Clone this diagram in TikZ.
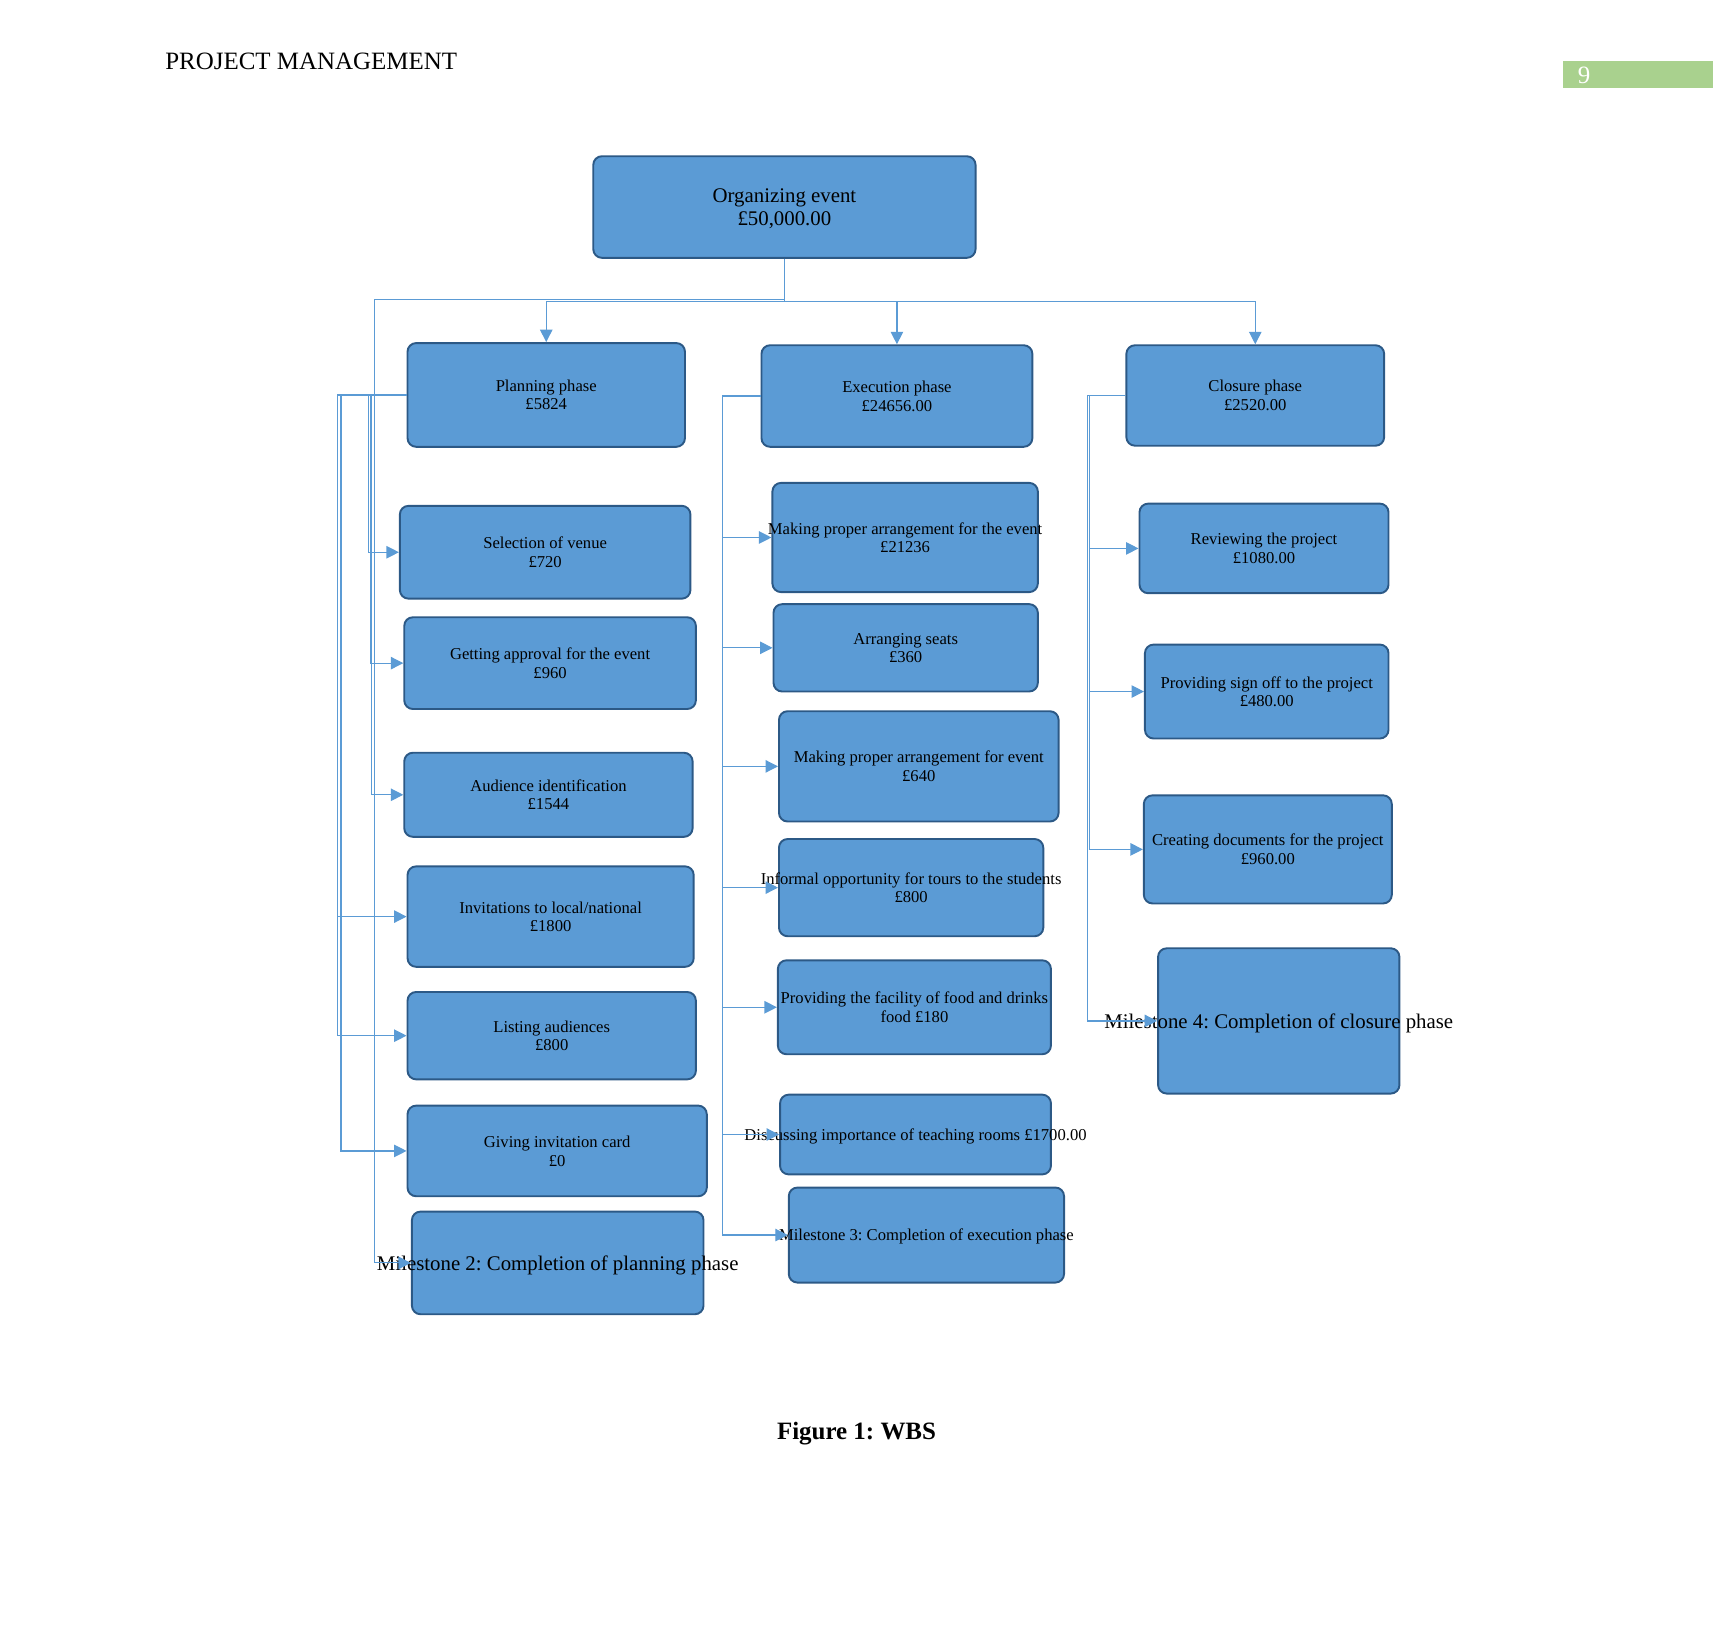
\documentclass[tikz,border=0pt]{standalone}
\usepackage{fontspec}
\setmainfont{Liberation Serif}
\usepackage{tikz}
\usetikzlibrary{arrows.meta,calc}
\frenchspacing
\definecolor{wbsfill}{HTML}{5B9BD5}
\definecolor{wbsedge}{HTML}{2C5986}
\definecolor{wbslink}{HTML}{5B9BD5}
\definecolor{pagegreen}{HTML}{A9D18E}
\tikzset{
  box/.style={rectangle, draw=wbsedge, line width=1pt, rounded corners=4.5pt, fill=wbsfill,
              align=center, inner xsep=-90pt, inner ysep=0pt, text depth=0pt,
              font=\fontsize{8.65}{9.7}\selectfont},
  bigbox/.style={box, font=\fontsize{10.85}{11.9}\selectfont},
  arr/.style={-{Triangle[length=6.5pt,width=6.5pt]}, color=wbslink, line width=0.6pt}
}
\begin{document}
\begin{tikzpicture}[x=0.02cm, y=-0.02cm]
  \useasboundingbox (0,0) rectangle (1568,1510);
  % page header
  \node[anchor=base west, inner sep=0pt, font=\fontsize{13}{15}\selectfont] (head) at (151,63.5) {PROJECT MANAGEMENT};
  \fill[pagegreen] (1431,56) rectangle (1568,81);
  \node[anchor=base, text=white, font=\fontsize{13}{15}\selectfont] (pageno) at (1450,76) {9};

  % top level and phases
  \node[bigbox, minimum width=7cm, minimum height=1.86cm] (top) at (718,189.5) {Organizing event\\£50,000.00};
  \node[box, minimum width=5.08cm, minimum height=1.9cm] (plan) at (500,361.5) {Planning phase\\£5824};
  \node[box, minimum width=4.96cm, minimum height=1.86cm] (exec) at (821,362.5) {Execution phase\\£24656.00};
  \node[box, minimum width=4.72cm, minimum height=1.84cm] (close) at (1149,362) {Closure phase\\£2520.00};

  % planning work packages
  \node[box, minimum width=5.32cm, minimum height=1.7cm] (venue) at (499,505.5) {Selection of venue\\£720};
  \node[box, minimum width=5.34cm, minimum height=1.68cm] (approval) at (503.5,607) {Getting approval for the event\\£960};
  \node[box, minimum width=5.28cm, minimum height=1.54cm] (audience) at (502,727.5) {Audience identification\\£1544};
  \node[box, minimum width=5.24cm, minimum height=1.84cm] (invite) at (504,839) {Invitations to local/national\\£1800};
  \node[box, minimum width=5.28cm, minimum height=1.6cm] (listing) at (505,948) {Listing audiences\\£800};
  \node[box, minimum width=5.48cm, minimum height=1.66cm] (card) at (510,1053.5) {Giving invitation card\\£0};
  \node[bigbox, minimum width=5.34cm, minimum height=1.88cm] (ms2) at (510.5,1156) {Milestone 2: Completion of planning phase};

  % execution work packages
  \node[box, minimum width=4.86cm, minimum height=2cm] (making) at (828.5,492) {Making proper arrangement for the event\\£21236};
  \node[box, minimum width=4.84cm, minimum height=1.6cm] (seats) at (829,593) {Arranging seats\\£360};
  \node[box, minimum width=5.12cm, minimum height=2.02cm] (arrange) at (841,701.5) {Making proper arrangement for event\\£640};
  \node[box, minimum width=4.84cm, minimum height=1.78cm] (tours) at (834,812.5) {Informal opportunity for tours to the students\\£800};
  \node[box, minimum width=5cm, minimum height=1.72cm] (food) at (837,922) {Providing the facility of food and drinks\\food £180};
  \node[box, minimum width=4.96cm, minimum height=1.46cm] (rooms) at (838,1038.5) {Discussing importance of teaching rooms £1700.00};
  \node[box, minimum width=5.04cm, minimum height=1.74cm] (ms3) at (848,1130.5) {Milestone 3: Completion of execution phase};

  % closure work packages
  \node[box, minimum width=4.56cm, minimum height=1.64cm] (review) at (1157,502) {Reviewing the project\\£1080.00};
  \node[box, minimum width=4.46cm, minimum height=1.72cm] (signoff) at (1159.5,633) {Providing sign off to the project\\£480.00};
  \node[box, minimum width=4.54cm, minimum height=1.98cm] (docs) at (1160.5,777.5) {Creating documents for the project\\£960.00};
  \node[bigbox, minimum width=4.42cm, minimum height=2.66cm] (ms4) at (1170.5,934.5) {Milestone 4: Completion of closure phase};

  % connectors
  \draw[arr] (top.south) -- ++(0,39) -| (plan.north);
  \draw[arr] (top.south) -- ++(0,39) -| (exec.north);
  \draw[arr] (top.south) -- ++(0,39) -| (close.north);
  \draw[arr] (top.south) -- ++(0,37) -| ($(ms2.west)+(-33,0)$) -- (ms2.west);

  \draw[arr] (plan.west) -- ++(-35,0) |- (venue.west);
  \draw[arr] (plan.west) -- ++(-33,0) |- (approval.west);
  \draw[arr] (plan.west) -- ++(-32,0) |- (audience.west);
  \draw[arr] (plan.west) -- ++(-63,0) |- (invite.west);
  \draw[arr] (plan.west) -- ++(-63,0) |- (listing.west);
  \draw[arr] (plan.west) -- ++(-60,0) |- (card.west);

  \draw[arr] (exec.west) -- ++(-35,0) |- (making.west);
  \draw[arr] (exec.west) -- ++(-35,0) |- (seats.west);
  \draw[arr] (exec.west) -- ++(-35,0) |- (arrange.west);
  \draw[arr] (exec.west) -- ++(-35,0) |- (tours.west);
  \draw[arr] (exec.west) -- ++(-35,0) |- (food.west);
  \draw[arr] (exec.west) -- ++(-35,0) |- (rooms.west);
  \draw[arr] (exec.west) -- ++(-35,0) |- (ms3.west);

  \draw[arr] (close.west) -- ++(-33,0) |- (review.west);
  \draw[arr] (close.west) -- ++(-33,0) |- (signoff.west);
  \draw[arr] (close.west) -- ++(-33,0) |- (docs.west);
  \draw[arr] (close.west) -- ++(-35,0) |- (ms4.west);

  % caption
  \node[anchor=base, font=\bfseries\fontsize{13}{15}\selectfont] (caption) at (784,1318) {Figure 1: WBS};
\end{tikzpicture}
\end{document}
